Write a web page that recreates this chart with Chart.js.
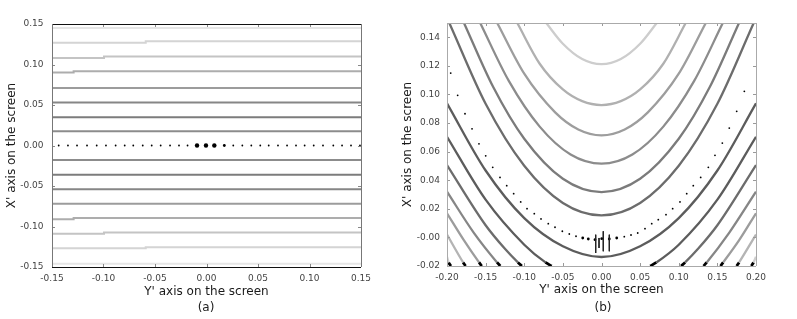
<!DOCTYPE html>
<html><head><meta charset="utf-8">
<script src="https://cdn.jsdelivr.net/npm/chart.js@4.4.1/dist/chart.umd.min.js"></script>
<style>
html,body{margin:0;padding:0;background:#fff;width:797px;height:319px;overflow:hidden;}
#wa{position:absolute;left:0;top:0;width:400px;height:319px;}
#wb{position:absolute;left:395px;top:0;width:402px;height:319px;}
.cap{position:absolute;top:307px;font:12px "DejaVu Sans";color:#222;transform:translate(-50%,-50%);white-space:nowrap;}
</style></head><body>
<div id="wa"><canvas id="ca" width="400" height="319"></canvas></div>
<div id="wb"><canvas id="cb" width="402" height="319"></canvas></div>
<div class="cap" style="left:206px">(a)</div>
<div class="cap" style="left:603px">(b)</div>
<script>
// ---------- Panel (a) data ----------
const aXTickVals=[-0.15,-0.10,-0.05,0,0.05,0.10,0.15];
const aXTickLabels=['-0.15','-0.10','-0.05','0.00','0.05','0.10','0.15'];
const aYTickVals=[-0.15,-0.10,-0.05,0,0.05,0.10,0.15];
const aYTickLabels=['-0.15','-0.10','-0.05','0.00','0.05','0.10','0.15'];
const aLineLevels=[0.145,0.127,0.108,0.090,0.071,0.053,0.035,0.0175,-0.0179,-0.036,-0.054,-0.072,-0.091,-0.109,-0.127,-0.146];
const aLineBreakX=[0,0.059,0.0995,0.129,0,0,0,0,0,0,0,0,0.129,0.0995,0.059,0];
const aLineOuterRise=[0,0.0018,0.0018,0.0018,0,0,0,0,0,0,0,0,0.0015,0.0015,0.0015,0];
const aDotX=[-0.1435,-0.1345,-0.1257,-0.116,-0.1066,-0.0976,-0.0882,-0.0794,-0.0711,-0.0619,-0.0532,-0.0445,-0.0354,-0.0267,-0.0184,-0.0092,-0.0005,0.0076,0.0173,0.026,0.0348,0.0435,0.0522,0.0604,0.0694,0.0782,0.0869,0.0953,0.1041,0.1131,0.1231,0.1316,0.1403,0.149];
const aDotY=[0,0,0,0,0,0,0,0,0,0,0,0,0,0,0,0,0,0,0,0,0,0,0,0,0,0,0,0,0,0,0,0,0,0];
const aDotWeight=[1,1,1,1,1,1,1,1,1,1,1,1,1,1,1,3,3,3,2,1,1,1,1,1,1,1,1,1,1,1,1,1,1,1];

// ---------- Panel (b) data ----------
const bXTickVals=[-0.20,-0.15,-0.10,-0.05,0,0.05,0.10,0.15,0.20];
const bXTickLabels=['-0.20','-0.15','-0.10','-0.05','0.00','0.05','0.10','0.15','0.20'];
const bYTickVals=[-0.02,0,0.02,0.04,0.06,0.08,0.10,0.12,0.14];
const bYTickLabels=['-0.02','-0.00','0.02','0.04','0.06','0.08','0.10','0.12','0.14'];
const bCurve1=[[-0.0715,0.15],[-0.05,0.1355],[-0.025,0.1248],[0,0.1212],[0.025,0.1248],[0.05,0.1355],[0.0715,0.15]];
const bCurve2=[[-0.109,0.15],[-0.08,0.1215],[-0.05,0.1035],[-0.025,0.0953],[0,0.0926],[0.025,0.0953],[0.05,0.1035],[0.08,0.1215],[0.109,0.15]];
const bCurve3=[[-0.135,0.15],[-0.1,0.1145],[-0.06,0.0875],[-0.03,0.0755],[0,0.0714],[0.03,0.0755],[0.06,0.0875],[0.1,0.1145],[0.135,0.15]];
const bCurve4=[[-0.157,0.15],[-0.12,0.1095],[-0.08,0.0775],[-0.04,0.058],[0,0.0516],[0.04,0.058],[0.08,0.0775],[0.12,0.1095],[0.157,0.15]];
const bCurve5=[[-0.178,0.15],[-0.14,0.105],[-0.1,0.069],[-0.05,0.041],[0,0.0317],[0.05,0.041],[0.1,0.069],[0.14,0.105],[0.178,0.15]];
const bCurve6=[[-0.197,0.15],[-0.15,0.0935],[-0.1,0.0501],[-0.05,0.0241],[0,0.0154],[0.05,0.0241],[0.1,0.0501],[0.15,0.0935],[0.197,0.15]];
const bCurve7=[[-0.2,0.0938],[-0.15,0.0468],[-0.1,0.0135],[-0.05,-0.0062],[0,-0.0137],[0.05,-0.0062],[0.1,0.0135],[0.15,0.0468],[0.2,0.0938]];
const bCurve8=[[-0.2,0.0704],[-0.15,0.0264],[-0.1,-0.0051],[-0.0725,-0.0175],[-0.0645,-0.02],[0,null],[0.063,-0.02],[0.071,-0.0175],[0.1,-0.0051],[0.15,0.0264],[0.2,0.0704]];
const bCurve9=[[-0.2,0.0506],[-0.15,0.0085],[-0.125,-0.008],[-0.1082,-0.0175],[-0.103,-0.02],[0,null],[0.103,-0.02],[0.1082,-0.0175],[0.125,-0.008],[0.15,0.0085],[0.2,0.0506]];
const bCurve10=[[-0.2,0.032],[-0.165,0.003],[-0.1352,-0.0175],[-0.131,-0.02],[0,null],[0.132,-0.02],[0.1362,-0.0175],[0.165,0.003],[0.2,0.032]];
const bCurve11=[[-0.2,0.0169],[-0.178,-0.0021],[-0.1585,-0.0175],[-0.155,-0.02],[0,null],[0.154,-0.02],[0.1575,-0.0175],[0.178,-0.0021],[0.2,0.0169]];
const bCurve12=[[-0.2,0.002],[-0.1791,-0.0175],[-0.176,-0.02],[0,null],[0.175,-0.02],[0.1781,-0.0175],[0.2,0.002]];
const bCurve13=[[-0.2,-0.0135],[-0.1978,-0.0175],[-0.195,-0.02],[0,null],[0.194,-0.02],[0.1968,-0.0175],[0.2,-0.0135]];
const bDotX=[-0.1952,-0.1862,-0.1767,-0.1676,-0.1586,-0.1499,-0.1408,-0.1314,-0.1227,-0.1137,-0.1046,-0.0964,-0.087,-0.0783,-0.0689,-0.0602,-0.0507,-0.0417,-0.033,-0.0243,-0.0171,-0.0084,0.0003,0.0101,0.0197,0.0295,0.0382,0.0469,0.0563,0.065,0.0735,0.0835,0.0921,0.1016,0.1103,0.1188,0.1284,0.1383,0.1469,0.1564,0.1654,0.175,0.1849];
const bDotY=[0.115,0.0994,0.0865,0.076,0.0655,0.0571,0.049,0.042,0.0362,0.0306,0.0248,0.0201,0.0166,0.0129,0.0096,0.0071,0.0043,0.0024,0.0008,-0.0004,-0.0011,-0.0016,-0.0009,-0.0011,-0.0004,0.0005,0.0017,0.0031,0.0061,0.0096,0.0124,0.0159,0.0201,0.0248,0.0306,0.0362,0.042,0.049,0.0574,0.066,0.0765,0.0882,0.1022];
const bDotWeight=[1,1,1,1,1,1,1,1,1,1,1,1,1,1,1,1,1,1,1,2,2,2,2,2,2,1,1,1,1,1,1,1,1,1,1,1,1,1,1,1,1,1,1];
const bStreakX=[-0.0075,-0.0032,0.0023,0.0101];
const bStreakTop=[0.0019,-0.0004,0.0043,0.0019];
const bStreakBottom=[-0.0109,-0.0074,-0.0097,-0.0097];

// ---------- styles ----------
const aLineColors=['#e6e6e6','#d4d4d4','#c4c4c4','#adadad','#9c9c9c','#868686','#7c7c7c','#8c8c8c','#8c8c8c','#7c7c7c','#868686','#9c9c9c','#adadad','#c4c4c4','#d4d4d4','#e6e6e6'];
const bCurveColors=['#cdcdcd','#b0b0b0','#9d9d9d','#8c8c8c','#7b7b7b','#6c6c6c','#5c5c5c','#5c5c5c','#6c6c6c','#868686','#9c9c9c','#b4b4b4','#cfcfcf'];
const FONT='DejaVu Sans';
const BOTTOM_B=-0.02;

const framePlugin={
  id:'frame',
  afterDatasetsDraw(chart,args,o){
    const {ctx,chartArea:{left,right,top,bottom},scales:{x,y}}=chart;
    ctx.save();
    ctx.lineWidth=1;
    ctx.strokeStyle=o.tickColor;
    const L=o.tickLen;
    ctx.beginPath();
    x.ticks.forEach(t=>{const p=Math.round(x.getPixelForValue(t.value))+0.5;ctx.moveTo(p,top);ctx.lineTo(p,top+L);ctx.moveTo(p,bottom);ctx.lineTo(p,bottom-L);});
    y.ticks.forEach(t=>{const p=Math.round(y.getPixelForValue(t.value))+0.5;ctx.moveTo(left,p);ctx.lineTo(left+L,p);ctx.moveTo(right,p);ctx.lineTo(right-L,p);});
    ctx.stroke();
    ctx.lineWidth=o.width;
    ctx.strokeStyle=o.hColor;
    ctx.beginPath();ctx.moveTo(left,top+0.5);ctx.lineTo(right,top+0.5);ctx.moveTo(left,bottom+0.5);ctx.lineTo(right,bottom+0.5);ctx.stroke();
    ctx.strokeStyle=o.vColor;
    ctx.beginPath();ctx.moveTo(left+0.5,top);ctx.lineTo(left+0.5,bottom);ctx.moveTo(right+0.5,top);ctx.lineTo(right+0.5,bottom);ctx.stroke();
    ctx.restore();
  }
};

function scales(cfg){
  return {
    x:{type:'linear',min:cfg.xmin,max:cfg.xmax,
      afterBuildTicks:s=>{s.ticks=cfg.xt.map(v=>({value:v}));},
      afterFit:s=>{s.height=cfg.xh;},
      ticks:{callback:(v,i)=>cfg.xl[i],font:{family:FONT,size:9},color:'#444',padding:cfg.xpad,maxRotation:0,autoSkip:false},
      grid:{display:false,drawTicks:false},border:{display:false},
      title:{display:true,text:"Y' axis on the screen",font:{family:FONT,size:12},color:'#1a1a1a',padding:{top:0,bottom:cfg.xtpad}}},
    y:{type:'linear',min:cfg.ymin,max:cfg.ymax,
      afterBuildTicks:s=>{s.ticks=cfg.yt.map(v=>({value:v}));},
      afterFit:s=>{s.width=52;},
      ticks:{callback:(v,i)=>cfg.yl[i],font:{family:FONT,size:9},color:'#444',padding:cfg.ypad,autoSkip:false},
      grid:{display:false,drawTicks:false},border:{display:false},
      title:{display:true,text:"X' axis on the screen",font:{family:FONT,size:12},color:'#1a1a1a',padding:{top:cfg.ytpad,bottom:0}}}
  };
}

// ---------- Chart (a) ----------
function levelPoints(i){
  const v=aLineLevels[i],b=aLineBreakX[i],r=aLineOuterRise[i];
  if(!b) return [{x:-0.15,y:v},{x:0.15,y:v}];
  return [{x:-0.15,y:v+r},{x:-b,y:v},{x:b,y:v+r},{x:0.15,y:v+r}];
}
const aSets=aLineLevels.map((v,i)=>({data:levelPoints(i),borderColor:aLineColors[i],borderWidth:2,pointRadius:0,stepped:'after',fill:false}));
aSets.push({data:aDotX.map((x,i)=>({x:x,y:aDotY[i]})),showLine:false,pointRadius:aDotWeight.map(w=>w===3?2.2:(w===2?1.4:0.9)),pointBackgroundColor:'#000',pointBorderWidth:0});

new Chart(document.getElementById('ca'),{
  type:'line',
  data:{datasets:aSets},
  options:{responsive:false,animation:false,events:[],
    layout:{padding:{left:0,top:24,right:39,bottom:0}},
    plugins:{legend:{display:false},tooltip:{enabled:false},
      frame:{tickColor:'#888',tickLen:3,width:1,hColor:'#111',vColor:'#777'}},
    scales:scales({xmin:-0.15,xmax:0.15,ymin:-0.15,ymax:0.15,xt:aXTickVals,xl:aXTickLabels,yt:aYTickVals,yl:aYTickLabels,xh:52,xpad:6,xtpad:19.8,ypad:8.5,ytpad:4.8})
  },
  plugins:[framePlugin]
});

// ---------- Chart (b) ----------
const bCurves=[bCurve1,bCurve2,bCurve3,bCurve4,bCurve5,bCurve6,bCurve7,bCurve8,bCurve9,bCurve10,bCurve11,bCurve12,bCurve13];
const bSets=bCurves.map((c,i)=>({data:c.map(p=>({x:p[0],y:p[1]})),borderColor:bCurveColors[i],borderWidth:2.3,pointRadius:0,cubicInterpolationMode:'monotone',spanGaps:false,fill:false,
  segment:{borderColor:ctx=>(ctx.p0.parsed.y===BOTTOM_B||ctx.p1.parsed.y===BOTTOM_B)?'#000':undefined,borderWidth:ctx=>(ctx.p0.parsed.y===BOTTOM_B||ctx.p1.parsed.y===BOTTOM_B)?2.8:undefined}}));
bStreakX.forEach((x,i)=>bSets.push({data:[{x:x,y:bStreakTop[i]},{x:x,y:bStreakBottom[i]}],borderColor:'#222',borderWidth:1,pointRadius:0}));
bSets.push({data:bDotX.map((x,i)=>({x:x,y:bDotY[i]})),showLine:false,pointRadius:bDotWeight.map(w=>w===2?1.4:0.9),pointBackgroundColor:'#000',pointBorderWidth:0});

new Chart(document.getElementById('cb'),{
  type:'line',
  data:{datasets:bSets},
  options:{responsive:false,animation:false,events:[],
    layout:{padding:{left:0,top:23,right:41,bottom:0}},
    plugins:{legend:{display:false},tooltip:{enabled:false},
      frame:{tickColor:'#999',tickLen:3,width:1,hColor:'#aaa',vColor:'#aaa'}},
    scales:scales({xmin:-0.20,xmax:0.20,ymin:-0.02,ymax:0.15,xt:bXTickVals,xl:bXTickLabels,yt:bYTickVals,yl:bYTickLabels,xh:53,xpad:6.6,xtpad:21.8,ypad:7,ytpad:5.8})
  },
  plugins:[framePlugin]
});
</script>
</body></html>
